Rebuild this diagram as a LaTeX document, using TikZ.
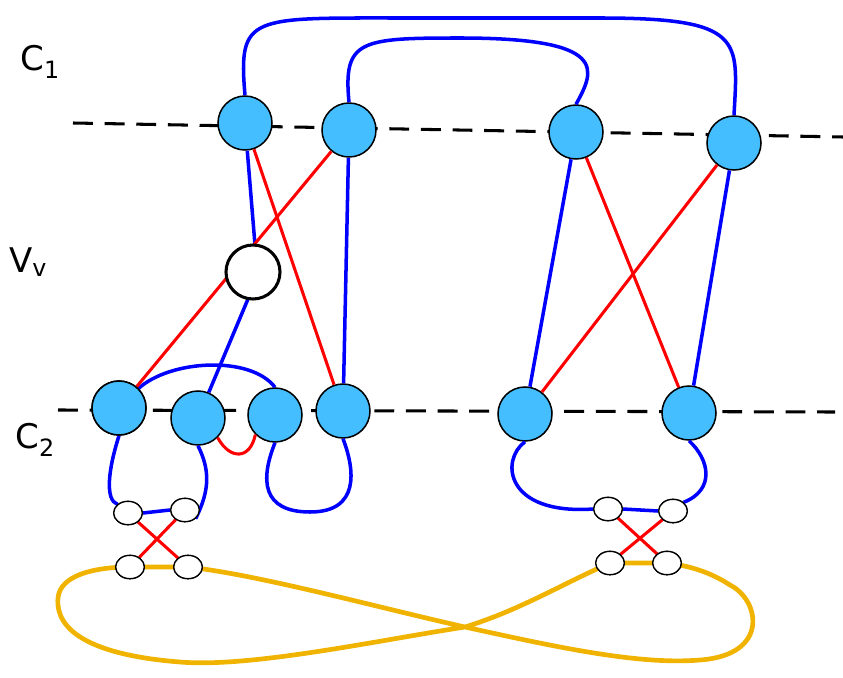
\documentclass[tikz,border=0pt]{standalone}
\usepackage{fontspec}
\setmainfont{DejaVu Sans}
\usetikzlibrary{positioning, shapes.geometric}
\definecolor{nodeblue}{RGB}{68,190,255}
\definecolor{loopyellow}{RGB}{240,180,0}
\tikzset{%
  vx/.style={draw, circle, fill=nodeblue, line width=1.3pt, minimum size=1.62cm, inner sep=0pt},
  vw/.style={vx, fill=white, line width=2.6pt},
  pt/.style={draw, ellipse, fill=white, line width=1.1pt, minimum width=0.86cm, minimum height=0.7cm, inner sep=0pt},
  eb/.style={draw=blue, line width=3pt},
  er/.style={draw=red, line width=2.6pt},
  ey/.style={draw=loopyellow, line width=4pt},
  cut/.style={draw, dashed, dash pattern=on 17pt off 10pt, line width=2.6pt},
  lab/.style={font=\fontsize{29}{30}\selectfont}
}
\begin{document}
\begin{tikzpicture}[x=0.03cm, y=-0.03cm]
  \useasboundingbox (0,0) rectangle (843,678);
  % cut lines
  \coordinate (t1) at (73,123);  \coordinate (t2) at (843,137);
  \coordinate (s1) at (58,410);  \coordinate (s2) at (835,412);
  \path[cut] (t1) -- (t2);
  \path[cut] (s1) -- (s2);
  % labels
  \node[lab] (c1) at (40,62)  {C\textsubscript{1}};
  \node[lab] (vv) at (28,262) {V\textsubscript{v}};
  \node[lab] (c2) at (35,440) {C\textsubscript{2}};
  % yellow figure eight
  \coordinate (y1) at (465,627);
  \path[ey] (188,567) .. controls (260,575) and (380,608) .. (y1)
    .. controls (560,648) and (640,665) .. (700,660)
    .. controls (770,655) and (760,600) .. (730,585)
    .. controls (710,572) and (690,566) .. (667,563) -- (610,563)
    .. controls (560,585) and (520,610) .. (y1)
    .. controls (380,640) and (250,668) .. (180,662)
    .. controls (90,655) and (55,630) .. (58,598)
    .. controls (60,575) and (95,567) .. (130,567) -- (188,567);
  % top nodes
  \node[vx] (a1) at (245,123) {};
  \node[vx] (a2) at (349,130) {};
  \node[vx] (a3) at (576,132) {};
  \node[vx] (a4) at (734,143) {};
  % bottom nodes
  \node[vx] (b1) at (119,408) {};
  \node[vx] (b2) at (198,418) {};
  \node[vx] (b3) at (275,415) {};
  \node[vx] (b4) at (343,411) {};
  \node[vx] (b5) at (525,414) {};
  \node[vx] (b6) at (689,413) {};
  % small points
  \node[pt] (l1) at (128,513) {};
  \node[pt] (l2) at (185,510) {};
  \node[pt] (l3) at (130,567) {};
  \node[pt] (l4) at (188,567) {};
  \node[pt] (r1) at (608,509) {};
  \node[pt] (r2) at (673,511) {};
  \node[pt] (r3) at (610,563) {};
  \node[pt] (r4) at (667,563) {};
  % blue edges
  \path[eb] (a1.north) .. controls (238,15) and (250,18) .. (400,18)
    -- (600,18) .. controls (745,18) and (738,40) .. (a4.north);
  \path[eb] (a2.north) .. controls (343,40) and (360,38) .. (460,38)
    .. controls (610,38) and (595,70) .. (a3.north);
  \path[eb] (a1) -- (255,245);
  \path[eb] (248,299) -- (b2);
  \path[eb] (a2) -- (b4);
  \path[eb] (a3) -- (b5);
  \path[eb] (a4) -- (b6);
  \path[eb] (b1.north east) .. controls (170,360) and (250,355) .. (b3.north);
  \path[eb] (b1.south) .. controls (108,470) and (105,500) .. (l1.north west);
  \path[eb] (b2.south) .. controls (210,470) and (210,490) .. (l2.south east);
  \path[eb] (l1.east) -- (l2.west);
  \path[eb] (b3.south) .. controls (260,480) and (262,512) .. (310,512)
    .. controls (360,512) and (355,470) .. (b4.south);
  \path[eb] (b5.south) .. controls (500,460) and (505,515) .. (r1.west);
  \path[eb] (r1.east) -- (r2.west);
  \path[eb] (r2.north east) .. controls (715,490) and (710,460) .. (b6.south);
  % red edges
  \path[er] (a1) -- (b4);
  \path[er] (a2) -- (b1);
  \path[er] (a3) -- (b6);
  \path[er] (a4) -- (b5);
  \path[er] (b2.south east) .. controls (230,460) and (250,460) .. (b3.south west);
  \path[er] (l1) -- (l4);
  \path[er] (l2) -- (l3);
  \path[er] (r1) -- (r4);
  \path[er] (r2) -- (r3);
  % special node
  \node[vw] (v) at (253,272) {};
  \node[vx] at (b1) {};
  \node[pt] at (l1) {}; \node[pt] at (l2) {}; \node[pt] at (l3) {}; \node[pt] at (l4) {};
  \node[pt] at (r1) {}; \node[pt] at (r2) {}; \node[pt] at (r3) {}; \node[pt] at (r4) {};
\end{tikzpicture}
\end{document}
